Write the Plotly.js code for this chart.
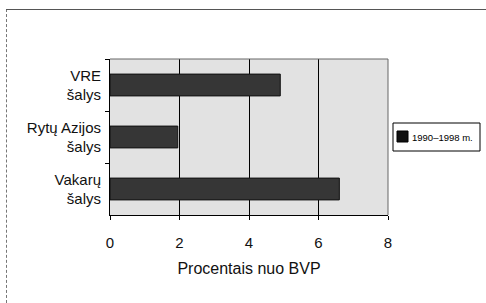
<!DOCTYPE html>
<html>
<head>
<meta charset="utf-8">
<script src="https://cdn.plot.ly/plotly-3.0.1.min.js"></script>
<style>
html,body{margin:0;padding:0;background:#fff;}
#wrap{position:relative;width:486px;height:303px;overflow:hidden;}
#chart{position:absolute;left:0;top:0;width:486px;height:303px;}
#bl{position:absolute;left:6px;top:9px;width:0;height:294px;border-left:1px dashed #777;}
#bt{position:absolute;left:6px;top:9px;width:480px;height:0;border-top:1px solid #555;}
</style>
</head>
<body>
<div id="wrap">
<div id="chart"></div>
<div id="bl"></div>
<div id="bt"></div>
</div>
<script>
const categories = ["VRE<br>šalys", "Rytų Azijos<br>šalys", "Vakarų<br>šalys"];
const values = [4.9, 1.95, 6.6];
const seriesName = "1990–1998 m.";
const xTicks = [0, 2, 4, 6, 8];

const barColor = "#363636";

const trace = {
  type: "bar",
  orientation: "h",
  y: categories,
  x: values,
  name: seriesName,
  width: 0.42,
  marker: {color: barColor, line: {color: "#111", width: 1}},
  showlegend: false,
  hoverinfo: "x+y"
};

// Legend drawn as a boxed key (paper coords: 0 = x 110px, 1 = x 486px)
const W = 376, H = 156, L = 110, B = 215;
const px = v => (v - L) / W;
const py = v => (B - v) / H;

const layout = {
  width: 486, height: 303,
  margin: {l: 110, r: 0, t: 59, b: 88},
  paper_bgcolor: "rgba(0,0,0,0)",
  plot_bgcolor: "#e2e2e2",
  font: {family: "Liberation Sans, Arial, sans-serif", size: 15, color: "#111"},
  showlegend: false,
  xaxis: {
    domain: [0, 278 / 376],
    range: [0, 8],
    tickvals: xTicks,
    ticktext: xTicks.map(String),
    showgrid: true, gridcolor: "#000", gridwidth: 1,
    zeroline: false,
    showline: true, linecolor: "#000", linewidth: 1, mirror: false,
    ticks: "outside", ticklen: 4, tickcolor: "#000",
    ticklabelstandoff: 10,
    tickfont: {size: 15},
    title: {text: "Procentais nuo BVP", font: {size: 16}, standoff: 12}
  },
  yaxis: {
    type: "category",
    autorange: "reversed",
    tickson: "boundaries",
    showgrid: false,
    showline: true, linecolor: "#000", linewidth: 1,
    ticks: "outside", ticklen: 4, tickcolor: "#000",
    ticklabelstandoff: 5,
    tickfont: {size: 15}
  },
  shapes: [
    {type: "line", xref: "x domain", yref: "y domain", x0: 0, x1: 1, y0: 1, y1: 1, line: {color: "#666", width: 1}},
    {type: "line", xref: "x domain", yref: "y domain", x0: 1, x1: 1, y0: 0, y1: 1, line: {color: "#666", width: 1}},
    {type: "rect", xref: "paper", yref: "paper", x0: px(393), x1: px(480), y0: py(151), y1: py(123),
     line: {color: "#000", width: 1}, fillcolor: "#fff"},
    {type: "rect", xref: "paper", yref: "paper", x0: px(397), x1: px(408), y0: py(142), y1: py(131),
     line: {color: "#000", width: 1}, fillcolor: "#111"}
  ],
  annotations: [
    {xref: "paper", yref: "paper", x: px(410), y: py(137), xanchor: "left", yanchor: "middle",
     text: seriesName, showarrow: false, font: {size: 9.5, color: "#000"}}
  ]
};

Plotly.newPlot("chart", [trace], layout, {displayModeBar: false, staticPlot: true});
</script>
</body>
</html>
